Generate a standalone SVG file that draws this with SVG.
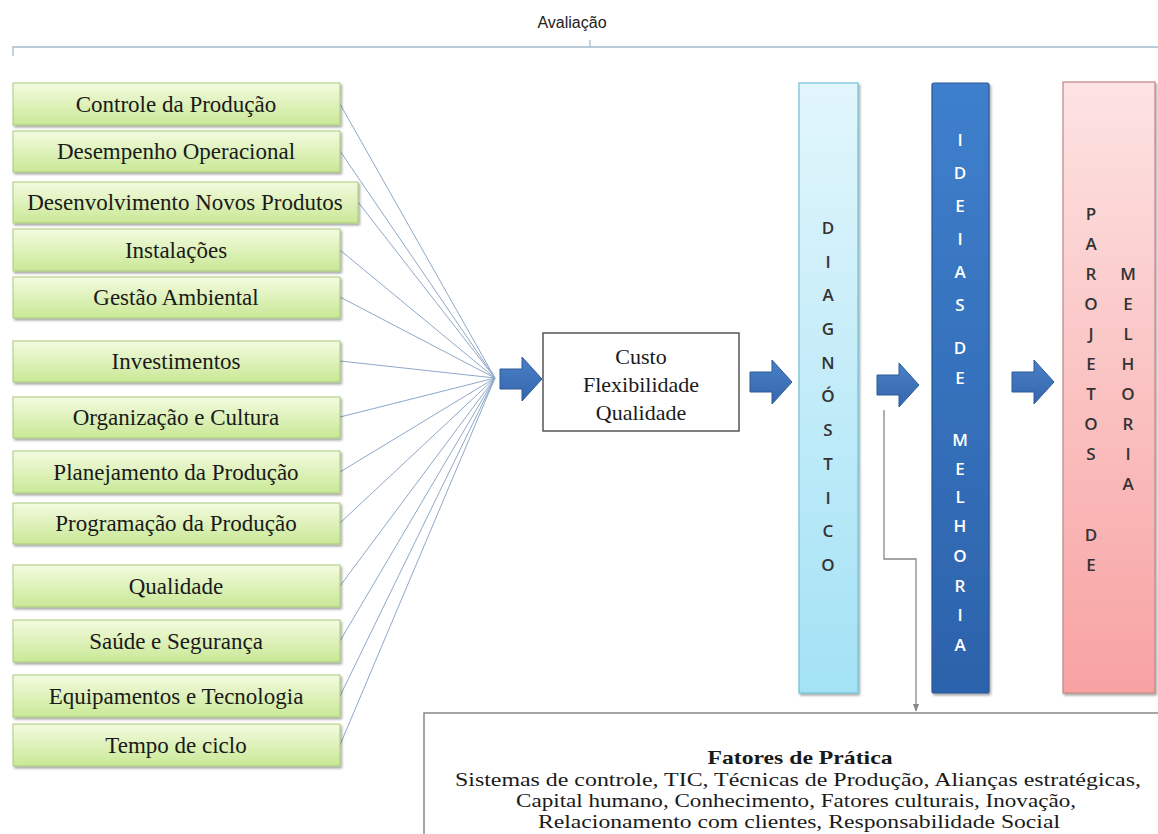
<svg xmlns="http://www.w3.org/2000/svg" width="1158" height="834" viewBox="0 0 1158 834">
<defs>
<linearGradient id="gGreen" x1="0" y1="0" x2="0" y2="1"><stop offset="0" stop-color="#f4fbe0"/><stop offset="1" stop-color="#c9e896"/></linearGradient>
<linearGradient id="gDiag" x1="0" y1="0" x2="0" y2="1"><stop offset="0" stop-color="#e2f6fc"/><stop offset="1" stop-color="#a3e2f5"/></linearGradient>
<linearGradient id="gIdeias" x1="0" y1="0" x2="0" y2="1"><stop offset="0" stop-color="#3f7fcc"/><stop offset="1" stop-color="#2c62ab"/></linearGradient>
<linearGradient id="gProj" x1="0" y1="0" x2="0" y2="1"><stop offset="0" stop-color="#fde3e3"/><stop offset="1" stop-color="#f8a2a2"/></linearGradient>
<linearGradient id="gArrow" x1="0" y1="0" x2="0" y2="1"><stop offset="0" stop-color="#4a80c6"/><stop offset="1" stop-color="#3466ad"/></linearGradient>
<filter id="sh" x="-5%" y="-5%" width="115%" height="130%"><feDropShadow dx="1.5" dy="2" stdDeviation="1.2" flood-color="#000" flood-opacity="0.35"/></filter>
<marker id="ah" viewBox="0 0 10 10" refX="9" refY="5" markerWidth="6" markerHeight="6" orient="auto"><path d="M0,1 L10,5 L0,9 z" fill="#888"/></marker>
<path id="blk" d="M0,-10 H22 V-22 L42,0 L22,22 V10 H0 Z"/>
<style>
.gb{fill:url(#gGreen);stroke:#a9c97a;stroke-width:1;filter:url(#sh)}
.gt{font-family:"Liberation Serif","Times New Roman",serif;font-size:23px;fill:#1a1a1a;text-anchor:middle}
.ln{stroke:#8ea8c8;stroke-width:1;fill:none}
.arr{fill:url(#gArrow);stroke:#2d5a98;stroke-width:1}
.lt{font-family:"Open Sans","Liberation Sans",sans-serif;font-size:17px;font-weight:600;text-anchor:middle;fill:#333}
.lw{fill:#ffffff}
.ft{font-family:"Liberation Serif","Times New Roman",serif;font-size:19px;fill:#1a1a1a;text-anchor:middle}
</style>
</defs>
<rect width="1158" height="834" fill="#ffffff"/>

<g id="avaliacao">
<text x="572" y="28" font-family="Liberation Sans, Arial, sans-serif" font-size="16" fill="#222" text-anchor="middle">Avaliação</text>
<path d="M13,56 V47 H1158 M590,40 V47" stroke="#a6bacb" stroke-width="1.3" fill="none"/>
</g>

<g id="connectors">
<path class="ln" d="M340,104 L495,378"/>
<path class="ln" d="M340,151 L495,378"/>
<path class="ln" d="M358,202 L495,378"/>
<path class="ln" d="M340,250 L495,378"/>
<path class="ln" d="M340,297 L495,378"/>
<path class="ln" d="M340,361 L495,378"/>
<path class="ln" d="M340,417 L495,378"/>
<path class="ln" d="M340,472 L495,378"/>
<path class="ln" d="M340,523 L495,378"/>
<path class="ln" d="M340,586 L495,378"/>
<path class="ln" d="M340,641 L495,378"/>
<path class="ln" d="M340,696 L495,378"/>
<path class="ln" d="M340,745 L495,378"/>
<use href="#blk" class="arr" x="500" y="379"/>
<use href="#blk" class="arr" x="750" y="382"/>
<use href="#blk" class="arr" x="877" y="385"/>
<use href="#blk" class="arr" x="1012" y="382"/>
<path d="M884,410 V559 H916 V711" stroke="#888" stroke-width="1.3" fill="none" marker-end="url(#ah)"/>
</g>

<g id="n1"><rect class="gb" x="13" y="83" width="327" height="42"/><text class="gt" x="176" y="112">Controle da Produção</text></g>
<g id="n2"><rect class="gb" x="13" y="131" width="327" height="41"/><text class="gt" x="176" y="159">Desempenho Operacional</text></g>
<g id="n3"><rect class="gb" x="13" y="182" width="345" height="41"/><text class="gt" x="185" y="210">Desenvolvimento Novos Produtos</text></g>
<g id="n4"><rect class="gb" x="13" y="229" width="327" height="42"/><text class="gt" x="176" y="258">Instalações</text></g>
<g id="n5"><rect class="gb" x="13" y="277" width="327" height="41"/><text class="gt" x="176" y="305">Gestão Ambiental</text></g>
<g id="n6"><rect class="gb" x="13" y="341" width="327" height="41"/><text class="gt" x="176" y="369">Investimentos</text></g>
<g id="n7"><rect class="gb" x="13" y="397" width="327" height="41"/><text class="gt" x="176" y="425">Organização e Cultura</text></g>
<g id="n8"><rect class="gb" x="13" y="451" width="327" height="42"/><text class="gt" x="176" y="480">Planejamento da Produção</text></g>
<g id="n9"><rect class="gb" x="13" y="503" width="327" height="41"/><text class="gt" x="176" y="531">Programação da Produção</text></g>
<g id="n10"><rect class="gb" x="13" y="565" width="327" height="42"/><text class="gt" x="176" y="594">Qualidade</text></g>
<g id="n11"><rect class="gb" x="13" y="620" width="327" height="42"/><text class="gt" x="176" y="649">Saúde e Segurança</text></g>
<g id="n12"><rect class="gb" x="13" y="675" width="327" height="42"/><text class="gt" x="176" y="704">Equipamentos e Tecnologia</text></g>
<g id="n13"><rect class="gb" x="13" y="724" width="327" height="42"/><text class="gt" x="176" y="753">Tempo de ciclo</text></g>

<g id="custo">
<rect x="543" y="333" width="196" height="98" fill="#fff" stroke="#555" stroke-width="1.5"/>
<text class="gt" x="641" y="364" style="font-size:22px">Custo</text>
<text class="gt" x="641" y="392" style="font-size:22px">Flexibilidade</text>
<text class="gt" x="641" y="420" style="font-size:22px">Qualidade</text>
</g>

<g id="diagnostico">
<rect x="799" y="83" width="59" height="610" fill="url(#gDiag)" stroke="#6cc3d8" stroke-width="1.2" filter="url(#sh)"/>
<text class="lt" x="828" y="234">D</text>
<text class="lt" x="828" y="268">I</text>
<text class="lt" x="828" y="301">A</text>
<text class="lt" x="828" y="335">G</text>
<text class="lt" x="828" y="369">N</text>
<text class="lt" x="828" y="402">Ó</text>
<text class="lt" x="828" y="436">S</text>
<text class="lt" x="828" y="470">T</text>
<text class="lt" x="828" y="504">I</text>
<text class="lt" x="828" y="537">C</text>
<text class="lt" x="828" y="571">O</text>
</g>

<g id="ideias">
<rect x="932" y="83" width="57" height="610" rx="2" fill="url(#gIdeias)" stroke="#2a5894" stroke-width="1.2" filter="url(#sh)"/>
<text class="lt lw" x="960" y="146">I</text>
<text class="lt lw" x="960" y="179">D</text>
<text class="lt lw" x="960" y="212">E</text>
<text class="lt lw" x="960" y="245">I</text>
<text class="lt lw" x="960" y="278">A</text>
<text class="lt lw" x="960" y="311">S</text>
<text class="lt lw" x="960" y="354">D</text>
<text class="lt lw" x="960" y="384">E</text>
<text class="lt lw" x="960" y="446">M</text>
<text class="lt lw" x="960" y="475">E</text>
<text class="lt lw" x="960" y="503">L</text>
<text class="lt lw" x="960" y="532">H</text>
<text class="lt lw" x="960" y="562">O</text>
<text class="lt lw" x="960" y="592">R</text>
<text class="lt lw" x="960" y="621">I</text>
<text class="lt lw" x="960" y="651">A</text>
</g>

<g id="projetos">
<rect x="1063" y="82" width="92" height="611" fill="url(#gProj)" stroke="#c08585" stroke-width="1.2" filter="url(#sh)"/>
<text class="lt" x="1091" y="220">P</text>
<text class="lt" x="1091" y="250">A</text>
<text class="lt" x="1091" y="280">R</text>
<text class="lt" x="1091" y="310">O</text>
<text class="lt" x="1091" y="340">J</text>
<text class="lt" x="1091" y="370">E</text>
<text class="lt" x="1091" y="400">T</text>
<text class="lt" x="1091" y="430">O</text>
<text class="lt" x="1091" y="460">S</text>
<text class="lt" x="1091" y="541">D</text>
<text class="lt" x="1091" y="571">E</text>
<text class="lt" x="1128" y="280">M</text>
<text class="lt" x="1128" y="310">E</text>
<text class="lt" x="1128" y="340">L</text>
<text class="lt" x="1128" y="370">H</text>
<text class="lt" x="1128" y="400">O</text>
<text class="lt" x="1128" y="430">R</text>
<text class="lt" x="1128" y="460">I</text>
<text class="lt" x="1128" y="490">A</text>
</g>

<g id="fatores">
<rect x="424" y="713" width="740" height="130" fill="#fff" stroke="#888" stroke-width="1.5"/>
<text class="ft" x="800" y="764" font-weight="bold" textLength="185" lengthAdjust="spacingAndGlyphs">Fatores de Prática</text>
<text class="ft" x="798" y="786" textLength="686" lengthAdjust="spacingAndGlyphs">Sistemas de controle, TIC, Técnicas de Produção, Alianças estratégicas,</text>
<text class="ft" x="796" y="807" textLength="560" lengthAdjust="spacingAndGlyphs">Capital humano, Conhecimento, Fatores  culturais, Inovação,</text>
<text class="ft" x="799" y="828" textLength="522" lengthAdjust="spacingAndGlyphs">Relacionamento com clientes, Responsabilidade Social</text>
</g>
</svg>
